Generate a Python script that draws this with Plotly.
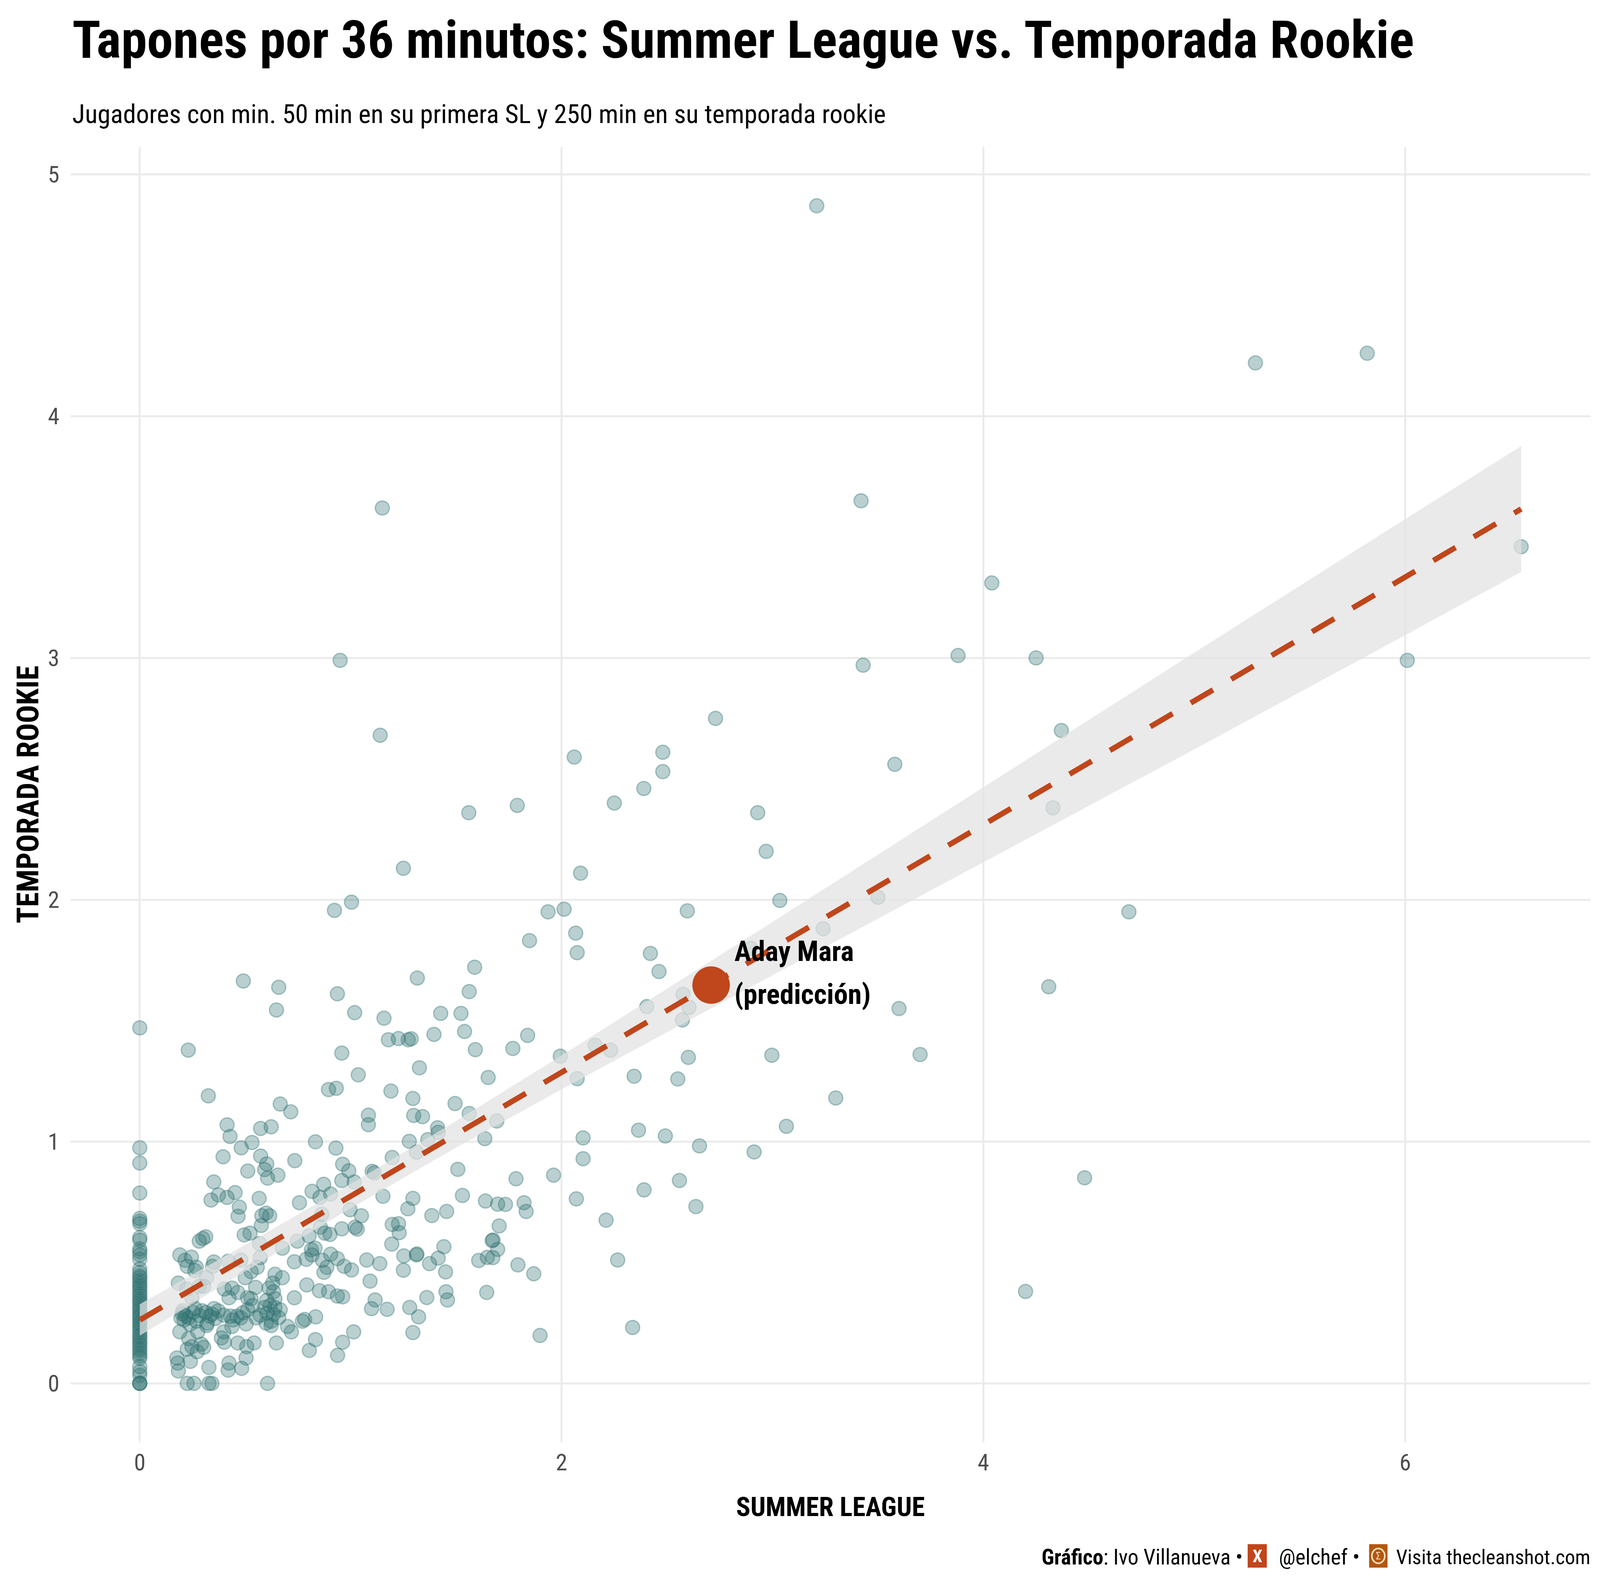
import plotly.graph_objects as go


# La ventana real mide 4096x4037; el panel se coloca en píxeles sobre ese lienzo
WIDTH, HEIGHT = 4096, 4037
PANEL_L, PANEL_R, PANEL_T, PANEL_B = 181, 4071, 376, 3692

FONT = "Roboto, 'Open Sans', 'DejaVu Sans Condensed', sans-serif"
TEAL_FILL = "rgba(47,112,112,0.33)"
TEAL_LINE = "rgba(47,112,112,0.36)"
ORANGE = "#C0461B"
BROWN = "#B4570F"

# Jugadores con 0 tapones en la Summer League (solo valor rookie)
ROOKIE_SL_CERO = [
    1.47, 0.974, 0.911, 0.787, 0.682, 0.671, 0.66, 0.603, 0.592, 0.556,
    0.545, 0.531, 0.513, 0.473, 0.458, 0.444, 0.437, 0.425, 0.414, 0.403,
    0.395, 0.382, 0.371, 0.362, 0.35, 0.341, 0.333, 0.321, 0.31, 0.302,
    0.29, 0.281, 0.273, 0.262, 0.25, 0.243, 0.231, 0.222, 0.209, 0.198,
    0.19, 0.178, 0.167, 0.158, 0.145, 0.136, 0.124, 0.113, 0.104, 0.069,
    0.048, 0.033, 0.0, 0.0, 0.0,
]

# Zona densa: SL entre 0 y 1, rookie por debajo de ~1
SL_BAJO = [
    0.428, 0.481, 0.532, 0.833, 0.930, 0.395, 0.573, 0.602, 0.592, 0.606,
    0.655, 0.512, 0.735, 0.962, 0.991, 0.958, 0.351, 0.373, 0.338, 0.414,
    0.452, 0.472, 0.466, 0.566, 0.757, 0.817, 0.872, 0.854, 0.905, 0.997,
    0.599, 0.616, 0.579, 0.576, 0.863, 0.958, 1.021, 1.031, 0.803, 0.877,
    0.902, 0.747, 0.856, 0.495, 0.523, 0.282, 0.299, 0.313, 0.568, 0.676,
    0.814, 0.831, 0.733, 0.789, 0.817, 0.866, 0.905, 0.937, 0.887, 0.873,
    0.969, 1.004, 0.190, 0.215, 0.245, 0.225, 0.268, 0.261, 0.351, 0.345,
    0.419, 0.479, 0.571, 0.557, 0.317, 0.183, 0.222, 0.282, 0.303, 0.247,
    0.500, 0.528, 0.641, 0.676, 0.549, 0.401, 0.438, 0.465, 0.423, 0.511,
    0.528, 0.613, 0.630, 0.634, 0.602, 0.641, 0.792, 0.852, 0.895, 0.937,
    0.962, 0.733, 1.014, 0.204, 0.218, 0.232, 0.254, 0.268, 0.296, 0.313,
    0.331, 0.320, 0.342, 0.372, 0.398, 0.430, 0.461, 0.479, 0.504, 0.511,
    0.535, 0.571, 0.592, 0.599, 0.623, 0.634, 0.641, 0.666, 0.623, 0.701,
    0.719, 0.771, 0.782, 0.834, 0.190, 0.275, 0.317, 0.437, 0.398, 0.387,
    0.401, 0.232, 0.247, 0.225, 0.303, 0.465, 0.507, 0.542, 0.648, 0.833,
    0.804, 0.962, 0.938, 0.504, 0.176, 0.180, 0.183, 0.240, 0.328, 0.423,
    0.419, 0.483, 0.225, 0.257, 0.328, 0.342, 0.606, 0.195, 0.210, 0.238,
    0.282, 0.201, 0.262, 0.358, 0.352, 0.442, 0.489, 0.552, 0.603, 0.659,
    0.618, 0.272, 0.292,
]
ROOKIE_BAJO = [
    1.021, 0.974, 0.996, 0.999, 0.973, 0.937, 0.940, 0.907, 0.884, 0.849,
    0.861, 0.878, 0.921, 0.906, 0.879, 0.839, 0.833, 0.779, 0.758, 0.769,
    0.789, 0.729, 0.691, 0.765, 0.747, 0.794, 0.823, 0.769, 0.783, 0.718,
    0.704, 0.693, 0.693, 0.653, 0.699, 0.639, 0.646, 0.638, 0.610, 0.621,
    0.616, 0.588, 0.646, 0.614, 0.621, 0.588, 0.599, 0.606, 0.578, 0.559,
    0.552, 0.559, 0.503, 0.513, 0.531, 0.509, 0.534, 0.516, 0.480, 0.459,
    0.484, 0.469, 0.531, 0.509, 0.522, 0.484, 0.480, 0.466, 0.502, 0.484,
    0.505, 0.510, 0.520, 0.480, 0.438, 0.415, 0.390, 0.401, 0.401, 0.354,
    0.437, 0.462, 0.451, 0.437, 0.397, 0.390, 0.394, 0.376, 0.354, 0.354,
    0.350, 0.394, 0.415, 0.379, 0.343, 0.350, 0.407, 0.383, 0.379, 0.361,
    0.358, 0.354, 0.213, 0.300, 0.278, 0.271, 0.293, 0.257, 0.300, 0.293,
    0.278, 0.249, 0.286, 0.300, 0.282, 0.278, 0.278, 0.271, 0.246, 0.304,
    0.322, 0.282, 0.314, 0.249, 0.257, 0.286, 0.314, 0.304, 0.239, 0.235,
    0.213, 0.257, 0.264, 0.275, 0.213, 0.213, 0.239, 0.235, 0.213, 0.188,
    0.170, 0.185, 0.152, 0.141, 0.149, 0.167, 0.152, 0.167, 0.167, 0.181,
    0.136, 0.170, 0.116, 0.105, 0.105, 0.084, 0.051, 0.091, 0.066, 0.084,
    0.055, 0.062, 0.0, 0.0, 0.0, 0.0, 0.0, 0.270, 0.262, 0.244,
    0.281, 0.288, 0.309, 0.268, 0.309, 0.262, 0.292, 0.271, 0.291, 0.272,
    0.322, 0.131, 0.162,
]

# SL entre 1 y 2.1, rookie por debajo de ~1
SL_MEDIO = [
    1.278, 1.366, 1.636, 1.197, 1.102, 1.112, 1.017, 1.312, 1.508, 1.784,
    1.962, 2.102, 2.102, 2.070, 1.153, 1.295, 1.271, 1.530, 1.639, 1.697,
    1.734, 1.822, 1.832, 1.385, 1.455, 1.051, 1.197, 1.227, 1.230, 1.195,
    1.704, 1.671, 1.675, 1.697, 1.648, 1.674, 1.607, 1.442, 1.415, 1.374,
    1.450, 1.312, 1.314, 1.252, 1.250, 1.076, 1.138, 1.092, 1.793, 1.868,
    1.645, 1.452, 1.459, 1.361, 1.116, 1.099, 1.173, 1.280, 1.322, 1.295,
    1.898,
]
ROOKIE_MEDIO = [
    1.001, 1.008, 1.012, 0.934, 0.877, 0.870, 0.833, 0.956, 0.885, 0.846,
    0.861, 1.015, 0.929, 0.763, 0.774, 0.765, 0.722, 0.777, 0.754, 0.741,
    0.740, 0.747, 0.711, 0.694, 0.711, 0.693, 0.657, 0.660, 0.623, 0.576,
    0.651, 0.590, 0.593, 0.554, 0.521, 0.520, 0.508, 0.565, 0.518, 0.495,
    0.461, 0.531, 0.535, 0.527, 0.468, 0.510, 0.495, 0.423, 0.490, 0.453,
    0.376, 0.379, 0.345, 0.355, 0.345, 0.309, 0.306, 0.314, 0.275, 0.210,
    0.198,
]

# SL hasta 2.1, rookie entre 1 y 2
SL_ALTO = [
    0.230, 0.491, 0.659, 0.648, 0.923, 1.004, 0.937, 1.019, 0.958, 1.036,
    0.895, 0.932, 0.325, 0.666, 0.716, 0.414, 0.573, 0.623,
    1.936, 2.012, 2.067, 2.074, 1.848, 1.588, 1.316, 1.562, 1.158, 1.427,
    1.523, 1.395, 1.540, 1.179, 1.226, 1.273, 1.287, 1.591, 1.769, 1.839,
    1.326, 1.652, 1.994, 2.074, 1.191, 1.295, 1.495, 1.084, 1.084, 1.299,
    1.341, 1.412, 1.415, 1.562, 1.693,
]
ROOKIE_ALTO = [
    1.378, 1.664, 1.638, 1.544, 1.956, 1.990, 1.611, 1.533, 1.366, 1.276,
    1.215, 1.220, 1.189, 1.155, 1.123, 1.069, 1.054, 1.061,
    1.950, 1.961, 1.862, 1.781, 1.831, 1.721, 1.676, 1.620, 1.510, 1.530,
    1.530, 1.443, 1.455, 1.421, 1.426, 1.421, 1.425, 1.380, 1.385, 1.439,
    1.305, 1.265, 1.353, 1.260, 1.209, 1.178, 1.157, 1.109, 1.070, 1.108,
    1.103, 1.057, 1.038, 1.116, 1.085,
]

# SL entre 2.1 y 3.1
SL_DOS_TRES = [
    2.596, 3.035, 2.421, 2.462, 2.897, 2.404, 2.576, 2.604, 2.573, 2.159,
    2.232, 2.601, 2.997, 2.344, 2.551, 2.365, 2.492, 2.654, 2.913, 3.066,
    2.391, 2.559, 2.637, 2.211, 2.266, 2.337,
]
ROOKIE_DOS_TRES = [
    1.954, 1.997, 1.778, 1.703, 1.799, 1.558, 1.609, 1.555, 1.503, 1.398,
    1.378, 1.348, 1.357, 1.270, 1.259, 1.047, 1.023, 0.982, 0.957, 1.063,
    0.800, 0.839, 0.731, 0.675, 0.510, 0.231,
]

# Puntos dispersos (rookie > 2 o SL > 3.1)
SL_DISPERSOS = [
    3.21, 5.29, 5.82, 3.42, 1.15, 4.04, 6.55, 0.95, 3.43, 3.88,
    4.25, 6.01, 1.14, 4.37, 2.73, 2.06, 2.48, 2.48, 2.39, 2.25,
    1.79, 1.56, 2.93, 3.58, 4.33, 2.97, 2.09, 1.25, 3.50, 4.69,
    3.24, 4.31, 3.60, 3.70, 3.30, 4.48, 4.20,
]
ROOKIE_DISPERSOS = [
    4.87, 4.22, 4.26, 3.65, 3.62, 3.31, 3.46, 2.99, 2.97, 3.01,
    3.00, 2.99, 2.68, 2.70, 2.75, 2.59, 2.61, 2.53, 2.46, 2.40,
    2.39, 2.36, 2.36, 2.56, 2.38, 2.20, 2.11, 2.13, 2.01, 1.95,
    1.88, 1.64, 1.55, 1.36, 1.18, 0.85, 0.38,
]

# Recta de regresión y banda de confianza
LINEA_X = [0.0, 6.55]
LINEA_Y = [0.262, 3.616]
BANDA_X = [0.0, 0.5, 1.0, 1.5, 2.0, 3.0, 4.0, 5.0, 6.0, 6.55]
BANDA_INF = [0.197, 0.463, 0.724, 0.975, 1.216, 1.688, 2.155, 2.622, 3.094, 3.356]
BANDA_SUP = [0.327, 0.573, 0.824, 1.085, 1.356, 1.908, 2.465, 3.022, 3.574, 3.876]

# Predicción para Aday Mara
MARA_SL = [2.709]
MARA_ROOKIE = [1.647]

X_TICKS = [0, 2, 4, 6]
Y_TICKS = [0, 1, 2, 3, 4, 5]

# Fuerza la variante condensada de Roboto y vuelve a dibujar con esas métricas
POST_SCRIPT = """
var st = document.createElement('style');
st.textContent = 'svg text, svg tspan { font-stretch: 75% !important; }';
document.head.appendChild(st);
document.documentElement.style.margin = '0';
document.body.style.margin = '0';
document.body.style.overflow = 'hidden';
var gd = document.getElementById('{plot_id}');
return Plotly.newPlot(gd, gd.data, gd.layout, {displayModeBar: false});
"""


def paper_x(px: float) -> float:
    return (px - PANEL_L) / (PANEL_R - PANEL_L)


def paper_y(py: float) -> float:
    return (PANEL_B - py) / (PANEL_B - PANEL_T)


def text_note(fig: go.Figure, px: float, py: float, text: str, size: int, anchor: str = "left",
              color: str = "#000000", angle: float = 0) -> None:
    # align igual al anclaje: la posición no depende del ancho medido del texto
    fig.add_annotation(
        x=paper_x(px), y=paper_y(py), xref="paper", yref="paper",
        text=text, textangle=angle, showarrow=False,
        xanchor=anchor, yanchor="middle", align=anchor,
        font=dict(family=FONT, size=size, color=color),
    )


def add_icon(fig: go.Figure, x0: float, x1: float, color: str) -> None:
    fig.add_shape(
        type="rect",
        xref="paper", yref="paper",
        x0=paper_x(x0), x1=paper_x(x1), y0=paper_y(4013), y1=paper_y(3953),
        fillcolor=color, line=dict(width=0), layer="above",
    )


def main() -> None:
    sl = [0.0] * len(ROOKIE_SL_CERO) + SL_BAJO + SL_MEDIO + SL_ALTO + SL_DOS_TRES + SL_DISPERSOS
    rookie = ROOKIE_SL_CERO + ROOKIE_BAJO + ROOKIE_MEDIO + ROOKIE_ALTO + ROOKIE_DOS_TRES + ROOKIE_DISPERSOS
    assert len(sl) == len(rookie)

    fig = go.Figure()

    fig.add_trace(
        go.Scatter(
            x=sl,
            y=rookie,
            mode="markers",
            marker=dict(size=36, color=TEAL_FILL, line=dict(color=TEAL_LINE, width=3.5)),
            hoverinfo="skip",
        )
    )
    fig.add_trace(
        go.Scatter(
            x=BANDA_X + BANDA_X[::-1],
            y=BANDA_SUP + BANDA_INF[::-1],
            mode="lines",
            fill="toself",
            fillcolor="rgba(226,226,226,0.72)",
            line=dict(width=0),
            hoverinfo="skip",
        )
    )
    fig.add_trace(
        go.Scatter(
            x=LINEA_X,
            y=LINEA_Y,
            mode="lines",
            line=dict(color=ORANGE, width=14, dash="66px,54px"),
            hoverinfo="skip",
        )
    )
    fig.add_trace(
        go.Scatter(
            x=MARA_SL,
            y=MARA_ROOKIE,
            mode="markers",
            marker=dict(size=96, color=ORANGE, line=dict(width=0)),
            hoverinfo="skip",
        )
    )

    # Etiqueta de la predicción
    for label, y in (("<b>Aday Mara</b>", 1.787), ("<b>(predicción)</b>", 1.608)):
        fig.add_annotation(
            x=2.815, y=y, xref="x", yref="y", text=label,
            showarrow=False, xanchor="left", yanchor="middle", align="left",
            font=dict(family=FONT, size=72, color="#000000"),
        )

    # Título, subtítulo y títulos de ejes
    text_note(fig, 183, 102, "<b>Tapones por 36 minutos: Summer League vs. Temporada Rookie</b>", 134)
    text_note(fig, 183, 292, "Jugadores con min. 50 min en su primera SL y 250 min en su temporada rookie", 67)
    text_note(fig, (PANEL_L + PANEL_R) / 2, 3858, "<b>SUMMER LEAGUE</b>", 68, anchor="center")
    text_note(fig, 72, (PANEL_T + PANEL_B) / 2, "<b>TEMPORADA ROOKIE</b>", 77, anchor="center", angle=-90)

    # Pie con iconos
    text_note(fig, 3184, 3986, "<b>Gráfico</b>: Ivo Villanueva •", 55, anchor="right")
    add_icon(fig, 3194, 3243, ORANGE)
    text_note(fig, 3219, 3984, "<b>X</b>", 44, anchor="center", color="#FFFFFF")
    text_note(fig, 3272, 3986, "@elchef •", 55)
    add_icon(fig, 3505, 3552, BROWN)
    fig.add_shape(
        type="circle", xref="paper", yref="paper",
        x0=paper_x(3512), x1=paper_x(3545), y0=paper_y(4002), y1=paper_y(3964),
        line=dict(color="#F6E3C0", width=4), layer="above",
    )
    text_note(fig, 3528.5, 3983, "Σ", 26, anchor="center", color="#F6E3C0")
    text_note(fig, 4073, 3986, "Visita thecleanshot.com", 52, anchor="right")

    axis_common = dict(
        showgrid=True,
        gridcolor="#EBEBEB",
        gridwidth=5,
        zeroline=False,
        showline=False,
        ticks="",
        tickfont=dict(family=FONT, size=60, color="#4D4D4D"),
    )
    fig.update_xaxes(
        range=[-0.3275, 6.8775],
        tickvals=X_TICKS,
        ticktext=[str(v) for v in X_TICKS],
        ticklabelstandoff=11,
        **axis_common,
    )
    fig.update_yaxes(
        range=[-0.2435, 5.1135],
        tickvals=Y_TICKS,
        ticktext=[str(v) for v in Y_TICKS],
        ticklabelstandoff=28,
        **axis_common,
    )

    fig.update_layout(
        width=WIDTH,
        height=HEIGHT,
        autosize=False,
        template="plotly_white",
        plot_bgcolor="#FFFFFF",
        paper_bgcolor="#FFFFFF",
        margin=dict(l=PANEL_L, r=WIDTH - PANEL_R, t=PANEL_T, b=HEIGHT - PANEL_B, pad=0),
        showlegend=False,
    )

    fig.write_html(
        "out.html",
        config={"displayModeBar": False},
        post_script=POST_SCRIPT,
    )


if __name__ == "__main__":
    main()
